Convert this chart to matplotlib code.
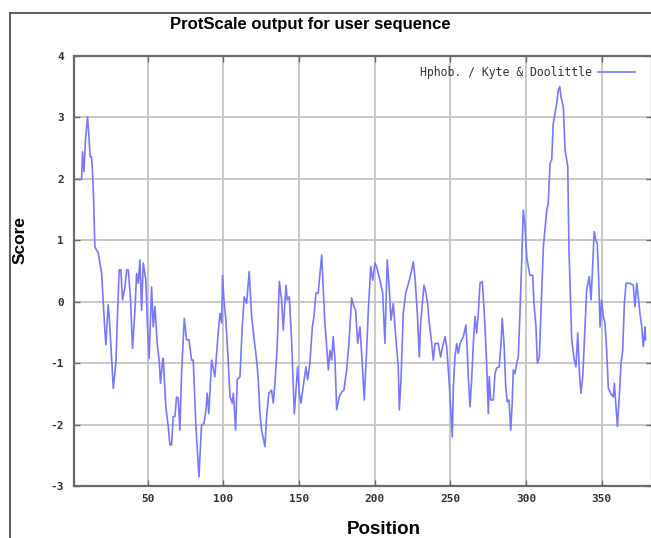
import matplotlib
matplotlib.use('Agg')
import matplotlib.pyplot as plt
from matplotlib.lines import Line2D

plt.rcParams['axes.unicode_minus'] = False

# Kyte & Doolittle hydrophobicity profile
position = [5, 6.3, 7.0, 7.9, 8.9, 10.3, 11.2, 12.0, 12.9, 13.5, 14.3, 15.1, 16.2, 17.3,
            19.6, 20.6, 21.7, 22.4, 23.9, 24.6, 25.5, 27.3, 29.0, 30.1, 31.2, 32.3,
            33.4, 35.0, 36.1, 37.2, 38.7, 40.0, 41.6, 42.7, 43.8, 44.9, 46.0, 47.1,
            48.8, 50.0, 51.0, 52.6, 53.7, 54.8, 56.3, 57.6, 58.5, 59.9, 60.3, 62.0,
            63.6, 64.7, 65.8, 66.9, 68.0, 69.1, 70.2, 71.3, 72.4, 74.2, 75.7, 77.3,
            79.0, 80.1, 81.9, 83.9, 85.6, 87.2, 88.5, 89.4, 90.4, 92.3, 94.4, 96.6,
            97.8, 98.9, 99.5, 100.4, 101.7, 103.2, 104.4, 105.9, 106.6, 108.1, 109.2,
            111.0, 112.5, 113.8, 115.4, 117.1, 118.7, 120.4, 122.0, 123.1, 124.2,
            125.3, 127.5, 128.6, 130.1, 131.9, 133.0, 134.1, 135.6, 137.0, 138.5,
            139.6, 141.4, 142.2, 143.6, 145.1, 146.9, 149.1, 150.2, 151.3, 152.8,
            154.6, 155.7, 157.2, 158.8, 159.9, 161.2, 162.7, 165.0, 166.0, 167.1,
            168.3, 169.4, 170.5, 171.6, 172.6, 173.8, 174.9, 176.6, 178.2, 179.7,
            181.5, 183.0, 184.8, 186.3, 187.4, 188.8, 190.3, 191.8, 193.1, 194.7,
            195.8, 197.4, 198.7, 200.2, 201.3, 203.5, 205.3, 206.8, 208.3, 209.4,
            210.8, 212.3, 214.1, 215.6, 216.3, 217.4, 218.9, 220.5, 222.9, 224.5,
            225.5, 226.6, 228.2, 229.5, 230.4, 231.7, 232.6, 233.9, 235.0, 236.1,
            237.7, 238.7, 239.9, 242.0, 243.6, 244.9, 246.5, 247.6, 249.3, 250.9,
            251.3, 252.0, 253.1, 254.2, 255.3, 256.4, 258.6, 260.3, 261.2, 261.9,
            263.0, 264.1, 265.2, 266.3, 267.4, 268.5, 269.6, 271.1, 271.8, 272.9,
            274.0, 275.1, 275.7, 276.7, 278.4, 279.5, 280.6, 282.3, 283.5, 284.3,
            285.5, 286.6, 287.6, 288.8, 289.9, 290.9, 291.6, 292.7, 293.9, 294.9,
            296.0, 297.2, 298.2, 299.3, 300.5, 301.5, 302.6, 304.4, 305.3, 306.6,
            307.5, 308.8, 310.4, 311.5, 312.6, 313.7, 314.7, 315.9, 317.0, 318.0,
            319.2, 320.3, 321.4, 322.3, 323.1, 324.7, 325.8, 327.6, 328.4, 329.1,
            330.2, 331.9, 333.0, 334.2, 335.2, 336.3, 337.5, 338.5, 340.1, 341.8,
            343.0, 343.8, 345.1, 346.1, 347.1, 348.3, 348.9, 350.0, 351.1, 352.2,
            353.3, 354.4, 355.9, 357.7, 358.4, 359.3, 360.4, 361.5, 362.8, 363.9,
            365.0, 366.1, 368.7, 370.9, 372.0, 373.2, 374.2, 375.3, 376.5, 377.5,
            378.7, 379.0]
score = [1.99, 1.99, 2.44, 2.12, 2.63, 3.01, 2.69, 2.36, 2.36, 2.14, 1.66, 0.90, 0.84, 0.80,
         0.46, 0.03, -0.46, -0.70, -0.05, -0.24, -0.62, -1.41, -1.00, -0.19, 0.52, 0.52,
         0.03, 0.24, 0.52, 0.52, 0.03, -0.76, -0.14, 0.46, 0.30, 0.68, -0.14, 0.63,
         0.35, -0.46, -0.92, 0.24, -0.41, -0.08, -0.68, -0.95, -1.33, -0.95, -0.92, -1.71,
         -2.03, -2.33, -2.33, -1.87, -1.87, -1.55, -1.57, -2.09, -1.17, -0.27, -0.62, -0.62,
         -0.95, -0.95, -2.03, -2.85, -2.01, -1.98, -1.76, -1.49, -1.82, -0.95, -1.22, -0.51,
         -0.19, -0.35, 0.43, 0.03, -0.30, -0.95, -1.55, -1.65, -1.49, -2.09, -1.27,
         -1.22, -0.41, 0.08, -0.03, 0.49, -0.24, -0.62, -0.95, -1.27, -1.82,
         -2.09, -2.36, -1.87, -1.49, -1.44, -1.65, -1.33, -0.73, 0.33, 0.03,
         -0.46, 0.27, 0.03, 0.08, -0.62, -1.82, -1.06, -1.49, -1.65, -1.38,
         -1.06, -1.27, -1.00, -0.41, -0.24, 0.14, 0.14, 0.76, 0.24, -0.35,
         -0.73, -1.11, -0.79, -0.95, -0.57, -0.95, -1.76, -1.55, -1.47, -1.44,
         -1.11, -0.68, 0.06, -0.08, -0.14, -0.68, -0.41, -1.00, -1.60, -0.79,
         -0.14, 0.57, 0.35, 0.63, 0.57, 0.35, 0.14, -0.68, 0.68, 0.30,
         -0.30, -0.03, -0.62, -1.06, -1.76, -1.27, -0.19, 0.14, 0.35, 0.52,
         0.65, 0.41, -0.19, -0.90, -0.35, 0.03, 0.27, 0.14, -0.03, -0.35,
         -0.68, -0.95, -0.68, -0.68, -0.90, -0.73, -0.57, -0.73, -1.33, -2.03,
         -2.20, -1.38, -0.90, -0.68, -0.84, -0.68, -0.57, -0.38, -0.79, -1.22,
         -1.71, -1.27, -0.68, -0.24, -0.51, -0.19, 0.30, 0.33, 0.08, -0.41,
         -1.00, -1.82, -1.22, -1.60, -1.60, -1.17, -1.08, -1.06, -0.68, -0.27,
         -0.68, -1.38, -1.63, -1.60, -2.09, -1.65, -1.11, -1.17, -1.00, -0.90,
         -0.19, 0.68, 1.49, 1.25, 0.73, 0.57, 0.43, 0.43, -0.03, -0.41,
         -1.00, -0.90, 0.19, 0.90, 1.20, 1.49, 1.60, 2.25, 2.31, 2.90,
         3.07, 3.23, 3.45, 3.50, 3.34, 3.17, 2.47, 2.20, 0.84, 0.30,
         -0.62, -0.95, -1.06, -0.51, -1.11, -1.49, -1.22, -0.68, 0.19, 0.41,
         0.03, 0.46, 1.14, 1.00, 0.95, 0.19, -0.41, 0.03, -0.24, -0.35,
         -0.79, -1.41, -1.49, -1.55, -1.33, -1.65, -2.03, -1.60, -1.00, -0.79,
         -0.03, 0.30, 0.30, 0.27, -0.08, 0.30, 0.08, -0.19, -0.41, -0.73,
         -0.41, -0.62]

x_ticks = [50, 100, 150, 200, 250, 300, 350]
y_ticks = [-3, -2, -1, 0, 1, 2, 3, 4]

W, H = 651, 538
f = plt.figure(figsize=(W / 100, H / 100), dpi=100)
# plot box: left edge 73.5 px, right edge just past the picture, top 56, bottom 486
ax = f.add_axes([73.5 / W, (H - 486) / H, (651.6 - 73.5) / W, 430 / H])

ax.plot(position, score, color='#7878ff', linewidth=1.2,
        label='Hphob. / Kyte & Doolittle', zorder=3)

ax.set_xlim(1, 383)
ax.set_ylim(-3, 4)
ax.set_xticks(x_ticks)
ax.set_yticks(y_ticks)
ax.grid(True, color='#c4c4c4', linewidth=1.3)
ax.set_axisbelow(True)

for s in ax.spines.values():
    s.set_color('#6a6a6a')
    s.set_linewidth(1.6)

ax.tick_params(direction='in', length=4, width=1, color='#6a6a6a',
               top=True, right=True, labelsize=8, labelcolor='#333333')
ax.tick_params(axis='x', pad=6)
ax.tick_params(axis='y', pad=7)
for lab in ax.get_xticklabels() + ax.get_yticklabels():
    lab.set_family('DejaVu Sans Mono')
    lab.set_fontweight('bold')

leg = ax.legend(loc='upper right', bbox_to_anchor=(0.985, 0.995), frameon=False,
                markerfirst=False, handlelength=3.2, handletextpad=0.5,
                borderpad=0.2, prop={'family': 'DejaVu Sans Mono', 'size': 8.3})
for t in leg.get_texts():
    t.set_color('#333333')

sans = ['Liberation Sans', 'DejaVu Sans']
f.text(310 / W, 1 - 24 / H, 'ProtScale output for user sequence', ha='center',
       va='center', fontsize=12, fontweight='bold', family=sans)
f.text(20 / W, 1 - 240 / H, 'Score', rotation=90, ha='center', va='center',
       fontsize=12.5, fontweight='bold', family=sans)
f.text(384 / W, 1 - 530 / H, 'Position', ha='center', va='center',
       fontsize=13.5, fontweight='bold', family=sans)

# dark frame of the screenshot (top and left edges)
f.add_artist(Line2D([9.5 / W, 1], [1 - 13 / H] * 2, transform=f.transFigure,
                    color='#444444', linewidth=1.2))
f.add_artist(Line2D([9.5 / W] * 2, [0, 1 - 13 / H], transform=f.transFigure,
                    color='#444444', linewidth=1.2))

f.savefig('out.png', dpi=100)
